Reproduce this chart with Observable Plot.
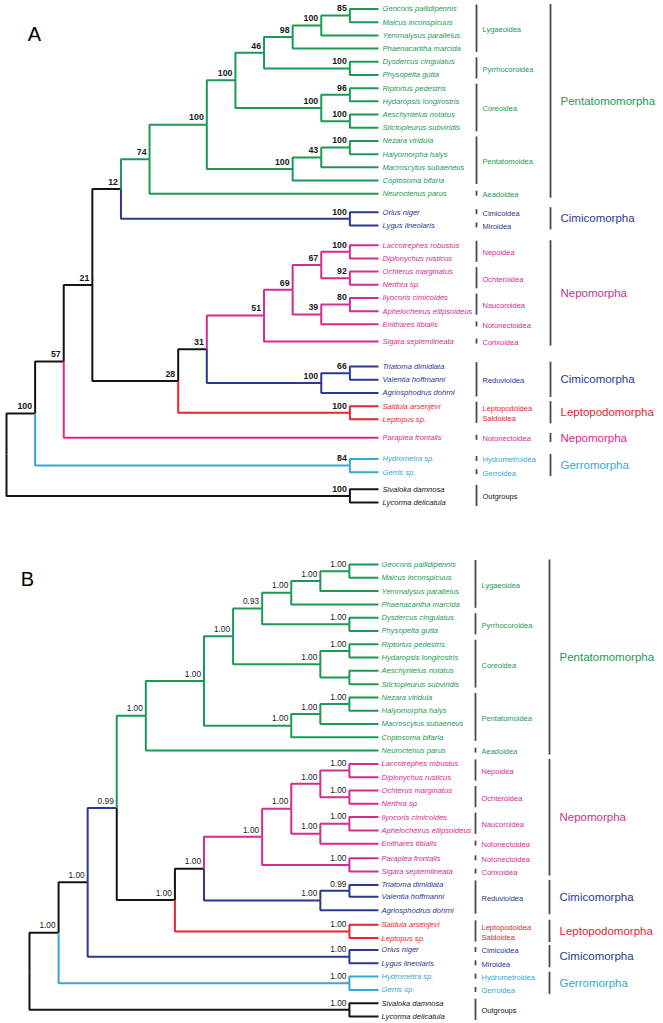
<!DOCTYPE html>
<html><head><meta charset="utf-8">
<script src="https://cdn.jsdelivr.net/npm/d3@7"></script>
<script src="https://cdn.jsdelivr.net/npm/@observablehq/plot@0.6"></script>
<style>
html,body{margin:0;padding:0;background:#fff;}
#chart{width:663px;}
#chart svg{display:block;}
</style></head><body><div id="chart"></div>
<script>
// ---- shared categories & colours ----
const groups = ["Pentatomomorpha","Cimicomorpha","Nepomorpha","Leptopodomorpha","Gerromorpha","Outgroups","Backbone"];
const groupColors = ["#1c9a55","#2b3990","#d42c8f","#e8262c","#34a9d2","#141414","#141414"];

// ---- Panel A (ML bootstrap) ----
const taxaA = ["Geocoris pallidipennis","Malcus inconspicuus","Yemmalysus parallelus","Phaenacantha marcida","Dysdercus cingulatus","Physopelta gutta","Riptortus pedestris","Hydaropsis longirostris","Aeschyntelus notatus","Stictopleurus subviridis","Nezara viridula","Halyomorpha halys","Macroscytus subaeneus","Coptosoma bifaria","Neuroctenus parus","Orius niger","Lygus lineolaris","Laccotrephes robustus","Diplonychus rusticus","Ochterus marginatus","Nerthra sp.","Ilyocoris cimicoides","Aphelocheirus ellipsoideus","Enithares tibialis","Sigara septemlineata","Triatoma dimidiata","Valentia hoffmanni","Agriosphodrus dohrni","Saldula arsenjevi","Leptopus sp.","Paraplea frontalis","Hydrometra sp.","Gerris sp.","Sivaloka damnosa","Lycorma delicatula"];
const rowsA = [0,1,2,3,4,5,6,7,8,9,10,11,12,13,14,15.4,16.4,17.9,18.9,19.9,20.9,21.9,22.9,23.9,25.2,27.1,28.1,29.1,30.1,31.1,32.5,34.1,35.1,36.4,37.4];
const treeA = "((((((((((((Geocoris pallidipennis:1,Malcus inconspicuus:1)85:1,Yemmalysus parallelus:2)100:1,Phaenacantha marcida:3)98:1,(Dysdercus cingulatus:1,Physopelta gutta:1)100:3)46:1,((Riptortus pedestris:1,Hydaropsis longirostris:1)96:1,(Aeschyntelus notatus:1,Stictopleurus subviridis:1)100:1)100:3)100:1,(((Nezara viridula:1,Halyomorpha halys:1)100:1,Macroscytus subaeneus:2)43:1,Coptosoma bifaria:3)100:3)100:2,Neuroctenus parus:8)74:1,(Orius niger:1,Lygus lineolaris:1)100:8)12:1,((((((Laccotrephes robustus:1,Diplonychus rusticus:1)100:1,(Ochterus marginatus:1,Nerthra sp.:1)92:1)67:1,((Ilyocoris cimicoides:1,Aphelocheirus ellipsoideus:1)80:1,Enithares tibialis:2)39:1)69:1,Sigara septemlineata:4)51:2,((Triatoma dimidiata:1,Valentia hoffmanni:1)66:1,Agriosphodrus dohrni:2)100:4)31:1,(Saldula arsenjevi:1,Leptopus sp.:1)100:6)28:3)21:1,Paraplea frontalis:11)57:1,(Hydrometra sp.:1,Gerris sp.:1)84:11)100:1,(Sivaloka damnosa:1,Lycorma delicatula:1)100:12);";
const superNamesA = ["Lygaeoidea","Pyrrhocoroidea","Coreoidea","Pentatomoidea","Aeadoidea","Cimicoidea","Miroidea","Nepoidea","Ochteroidea","Naucoroidea","Notonectoidea","Corixoidea","Reduvioidea","Leptopodoidea\nSaldoidea","Notonectoidea","Hydrometroidea","Gerroidea","Outgroups"];
const superCountsA = [4,2,4,4,1,1,1,2,2,2,1,1,3,2,1,1,1,2];
const infraNamesA = ["Pentatomomorpha","Cimicomorpha","Nepomorpha","Cimicomorpha","Leptopodomorpha","Nepomorpha","Gerromorpha","Outgroups"];
const infraCountsA = [15,2,8,3,2,1,2,2];

// ---- Panel B (Bayesian posterior) ----
const taxaB = ["Geocoris pallidipennis","Malcus inconspicuus","Yemmalysus parallelus","Phaenacantha marcida","Dysdercus cingulatus","Physopelta gutta","Riptortus pedestris","Hydaropsis longirostris","Aeschyntelus notatus","Stictopleurus subviridis","Nezara viridula","Halyomorpha halys","Macroscytus subaeneus","Coptosoma bifaria","Neuroctenus parus","Laccotrephes robustus","Diplonychus rusticus","Ochterus marginatus","Nerthra sp.","Ilyocoris cimicoides","Aphelocheirus ellipsoideus","Enithares tibialis","Paraplea frontalis","Sigara septemlineata","Triatoma dimidiata","Valentia hoffmanni","Agriosphodrus dohrni","Saldula arsenjevi","Leptopus sp.","Orius niger","Lygus lineolaris","Hydrometra sp.","Gerris sp.","Sivaloka damnosa","Lycorma delicatula"];
const rowsB = [0,1,2,3,4,5,6,7,8,9,10,11,12,13,14,15,16,17,18,19,20,21,22.1,23.1,24.1,25,26,27.1,28.1,29,30,31,32,33,34];
const treeB = "(((((((((((Geocoris pallidipennis:1,Malcus inconspicuus:1)1.00:1,Yemmalysus parallelus:2)1.00:1,Phaenacantha marcida:3)1.00:1,(Dysdercus cingulatus:1,Physopelta gutta:1)1.00:3)0.93:1,((Riptortus pedestris:1,Hydaropsis longirostris:1)1.00:1,(Aeschyntelus notatus:1,Stictopleurus subviridis:1):1)1.00:3)1.00:1,(((Nezara viridula:1,Halyomorpha halys:1)1.00:1,Macroscytus subaeneus:2)1.00:1,Coptosoma bifaria:3)1.00:3)1.00:2,Neuroctenus parus:8)1.00:1,((((((Laccotrephes robustus:1,Diplonychus rusticus:1)1.00:1,(Ochterus marginatus:1,Nerthra sp.:1)1.00:1)1.00:1,((Ilyocoris cimicoides:1,Aphelocheirus ellipsoideus:1)1.00:1,Enithares tibialis:2)1.00:1)1.00:1,(Paraplea frontalis:1,Sigara septemlineata:1)1.00:3)1.00:2,((Triatoma dimidiata:1,Valentia hoffmanni:1)0.99:1,Agriosphodrus dohrni:2)1.00:4)1.00:1,(Saldula arsenjevi:1,Leptopus sp.:1)1.00:6)1.00:2)0.99[c=Cimicomorpha]:1,(Orius niger:1,Lygus lineolaris:1)1.00:9)1.00:1,(Hydrometra sp.:1,Gerris sp.:1)1.00:10)1.00:1,(Sivaloka damnosa:1,Lycorma delicatula:1)1.00:11);";
const superNamesB = ["Lygaeoidea","Pyrrhocoroidea","Coreoidea","Pentatomoidea","Aeadoidea","Nepoidea","Ochteroidea","Naucoroidea","Notonectoidea","Notonectoidea","Corixoidea","Reduvioidea","Leptopodoidea\nSaldoidea","Cimicoidea","Miroidea","Hydrometroidea","Gerroidea","Outgroups"];
const superCountsB = [4,2,4,4,1,2,2,2,1,1,1,3,2,1,1,1,1,2];
const infraNamesB = ["Pentatomomorpha","Nepomorpha","Cimicomorpha","Leptopodomorpha","Cimicomorpha","Gerromorpha","Outgroups"];
const infraCountsB = [15,9,3,2,2,2,2];

// ---- helpers ----
function parseNewick(s) {
  let i = 0;
  function node() {
    const n = {children: [], label: "", note: "", length: 0};
    if (s[i] === "(") { i++; do { n.children.push(node()); } while (s[i++] === ","); }
    let name = "";
    while (i < s.length && !",():;[".includes(s[i])) name += s[i++];
    n.label = name.trim();
    if (s[i] === "[") { const j = s.indexOf("]", i); n.note = s.slice(i + 1, j); i = j + 1; }
    if (s[i] === ":") { i++; let num = ""; while (i < s.length && !",();[".includes(s[i])) num += s[i++]; n.length = +num; }
    return n;
  }
  return node();
}
function runs(names, counts, rows, tipGroup) {
  let start = 0; const out = [];
  names.forEach((name, k) => {
    const end = start + counts[k] - 1;
    out.push({name, y1: rows[start], y2: rows[end], ym: (rows[start] + rows[end]) / 2, group: tipGroup[start], single: counts[k] === 1});
    start = end + 1;
  });
  return out;
}

function panel(cfg) {
  const tipGroup = cfg.infraNames.flatMap((g, k) => Array(cfg.infraCounts[k]).fill(g));
  const root = parseNewick(cfg.tree);
  const nodes = [];
  (function walk(n, d) {
    n.x = d + n.length;
    n.children.forEach(c => walk(c, n.x));
    if (!n.children.length) {
      const k = cfg.taxa.indexOf(n.label);
      n.y = cfg.rows[k]; n.tips = new Set([tipGroup[k]]); n.tip = true;
    } else {
      n.y = (n.children[0].y + n.children[n.children.length - 1].y) / 2;
      n.tips = new Set(n.children.flatMap(c => [...c.tips]));
    }
    const m = /c=([^\]]+)/.exec(n.note);
    n.group = m ? m[1] : (n.tips.size === 1 ? [...n.tips][0] : "Backbone");
    nodes.push(n);
  })(root, 0);
  const links = [];
  (function collect(n) { n.children.forEach(c => { links.push({x1: n.x, y1: n.y, x2: c.x, y2: c.y, group: c.group}); collect(c); }); })(root);
  const tips = nodes.filter(n => n.tip);
  const inner = nodes.filter(n => !n.tip && n.label);
  const xMax = d3.max(tips, d => d.x);
  const supers = runs(cfg.superNames, cfg.superCounts, cfg.rows, tipGroup).map(d => ({...d, x: xMax}));
  const infras = runs(cfg.infraNames, cfg.infraCounts, cfg.rows, tipGroup).filter(d => d.name !== "Outgroups").map(d => ({...d, x: xMax}));
  const font = "Liberation Sans, Arial, Helvetica, sans-serif";
  return Plot.plot({
    width: 663, height: cfg.height,
    marginLeft: cfg.marginLeft, marginRight: cfg.marginRight, marginTop: cfg.marginTop, marginBottom: cfg.marginBottom,
    x: {domain: [0, xMax], axis: null},
    y: {domain: [0, d3.max(cfg.rows)], reverse: true, axis: null},
    color: {domain: groups, range: groupColors},
    style: {fontFamily: font, background: "#fff", overflow: "visible"},
    marks: [
      Plot.link(links, {x1: "x1", y1: "y1", x2: "x2", y2: "y2", stroke: "group", strokeWidth: 2, curve: "step-before"}),
      Plot.text(inner, {x: "x", y: "y", text: "label", textAnchor: "end", dx: -3, dy: -7, fontSize: cfg.supportSize, fontWeight: cfg.supportWeight, fill: "#1a1a1a"}),
      Plot.text(tips, {x: "x", y: "y", text: "label", fill: "group", textAnchor: "start", dx: cfg.tipDx, fontSize: 7.6, fontStyle: "italic"}),
      Plot.ruleX(supers.filter(d => !d.single), {x: "x", y1: "y1", y2: "y2", dx: cfg.superDx, stroke: "#4a4a4a", strokeWidth: 1.8, insetTop: -4, insetBottom: -4}),
      Plot.ruleX(supers.filter(d => d.single), {x: "x", y1: "y1", y2: "y2", dx: cfg.superDx, stroke: "#4a4a4a", strokeWidth: 1.8, insetTop: -2.5, insetBottom: -2.5}),
      Plot.text(supers, {x: "x", y: "ym", text: "name", fill: "group", textAnchor: "start", dx: cfg.superDx + 6, fontSize: 7.5, lineHeight: 1.4}),
      Plot.ruleX(infras, {x: "x", y1: "y1", y2: "y2", dx: cfg.superDx + 74, stroke: "#4a4a4a", strokeWidth: 1.8, insetTop: -4.5, insetBottom: -4.5}),
      Plot.text(infras, {x: "x", y: "ym", text: "name", fill: "group", textAnchor: "start", dx: cfg.superDx + 84, fontSize: 11.5}),
      Plot.text([cfg.letter], {frameAnchor: "top-left", text: d => d, dx: cfg.letterDx, dy: cfg.letterDy, fontSize: 20, fill: "#000", textAnchor: "middle", lineAnchor: "middle"})
    ]
  });
}

const chart = document.getElementById("chart");
chart.append(panel({letter: "A", tree: treeA, taxa: taxaA, rows: rowsA, superNames: superNamesA, superCounts: superCountsA, infraNames: infraNamesA, infraCounts: infraCountsA,
  height: 520, marginLeft: 6, marginRight: 285, marginTop: 8.5, marginBottom: 18, supportSize: 8.8, supportWeight: "bold", tipDx: 4, superDx: 98, letterDx: 28, letterDy: 25.5}));
chart.append(panel({letter: "B", tree: treeB, taxa: taxaB, rows: rowsB, superNames: superNamesB, superCounts: superCountsB, infraNames: infraNamesB, infraCounts: infraCountsB,
  height: 503, marginLeft: 29, marginRight: 285, marginTop: 44, marginBottom: 7, supportSize: 8.3, supportWeight: "normal", tipDx: 3, superDx: 97, letterDx: -2, letterDy: 15}));
</script>
</body></html>
